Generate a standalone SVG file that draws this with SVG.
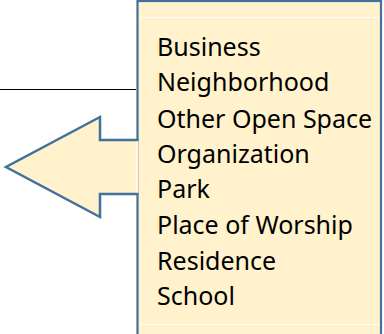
<svg xmlns="http://www.w3.org/2000/svg" width="384" height="334" viewBox="0 0 384 334">
  <style>
    .panel { fill: #FFF2CC; stroke: #41719C; stroke-width: 2.2; }
    .arrow-fill { fill: #FFF2CC; stroke: none; }
    .arrow-edge { fill: none; stroke: #41719C; stroke-width: 2.5; stroke-linejoin: miter; }
    .seam { stroke: #FFFFFF; stroke-width: 1; opacity: 0.85; }
    .item { font-family: "Noto Sans", "Liberation Sans", sans-serif; font-size: 25px; fill: #000000; }
  </style>

  <!-- leader line -->
  <g id="connectors">
    <line x1="0" y1="89.5" x2="136" y2="89.5" stroke="#000000" stroke-width="1.2"/>
  </g>

  <!-- category list panel -->
  <g id="category-list">
    <rect class="panel" x="137.5" y="1" width="243.5" height="345"/>
    <line class="seam" x1="139" y1="17.5" x2="380" y2="17.5"/>
    <line class="seam" x1="139" y1="324.5" x2="380" y2="324.5"/>
    <text class="item" x="157" y="56">Business</text>
    <text class="item" x="157" y="91">Neighborhood</text>
    <text class="item" x="157" y="128">Other Open Space</text>
    <text class="item" x="157" y="163">Organization</text>
    <text class="item" x="157" y="198">Park</text>
    <text class="item" x="157" y="234">Place of Worship</text>
    <text class="item" x="157" y="270">Residence</text>
    <text class="item" x="157" y="305">School</text>
  </g>

  <!-- left-pointing block arrow -->
  <g id="arrow">
    <path class="arrow-fill" d="M138.5,140 H100 V117 L6,167 L100,217 V194 H138.5 Z"/>
    <path class="arrow-edge" d="M138.5,140 H100 V117 L6,167 L100,217 V194 H138.5"/>
    <line class="seam" x1="137" y1="141.5" x2="137" y2="192.5"/>
  </g>
</svg>
